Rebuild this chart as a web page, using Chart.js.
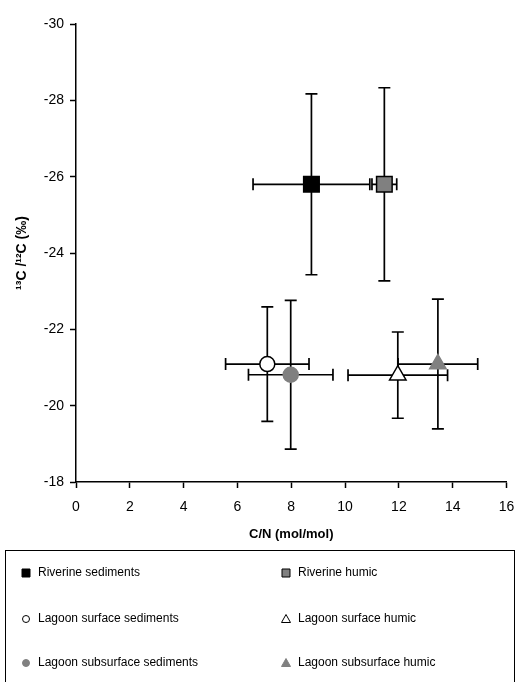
<!DOCTYPE html>
<html>
<head>
<meta charset="utf-8">
<script src="https://cdn.jsdelivr.net/npm/chart.js@4/dist/chart.umd.min.js"></script>
<style>
html,body{margin:0;padding:0;background:#fff;}
#wrap{position:relative;width:519px;height:682px;}
canvas{display:block;}
</style>
</head>
<body>
<div id="wrap"><canvas id="c" width="519" height="682"></canvas></div>
<script>
// Series names
const seriesNames = ['Riverine sediments','Riverine humic','Lagoon surface sediments','Lagoon surface humic','Lagoon subsurface sediments','Lagoon subsurface humic'];
// C/N (mol/mol) values and error
const cnValues = [8.75, 11.46, 7.11, 11.96, 7.98, 13.45];
const cnErrors = [2.17, 0.46, 1.55, 1.85, 1.57, 1.48];
// 13C/12C (‰) values and error
const d13Values = [-25.8, -25.8, -21.09, -20.8, -20.81, -21.09];
const d13Errors = [2.37, 2.53, 1.5, 1.13, 1.95, 1.7];
// Tick labels
const xTicks = [0,2,4,6,8,10,12,14,16];
const yTicks = [-30,-28,-26,-24,-22,-20,-18];

const styles = [
  {shape:'rect', fill:'#000000', stroke:'#000000', r:11},
  {shape:'rect', fill:'#808080', stroke:'#000000', r:11},
  {shape:'circle', fill:'#ffffff', stroke:'#000000', r:7.5},
  {shape:'triangle', fill:'#ffffff', stroke:'#000000', r:9.5},
  {shape:'circle', fill:'#808080', stroke:'#808080', r:7.5},
  {shape:'triangle', fill:'#808080', stroke:'#808080', r:9.5}
];

const datasets = seriesNames.map((n,i)=>({
  label:n,
  data:[{x:cnValues[i], y:d13Values[i], xe:cnErrors[i], ye:d13Errors[i]}],
  pointStyle:styles[i].shape,
  pointRadius:styles[i].r,
  pointHoverRadius:styles[i].r,
  backgroundColor:styles[i].fill,
  borderColor:styles[i].stroke,
  borderWidth:1.5
}));

const errorBars = {
  id:'errorBars',
  beforeDatasetsDraw(chart){
    const ctx = chart.ctx, xs = chart.scales.x, ys = chart.scales.y;
    ctx.save();
    ctx.strokeStyle = '#000';
    ctx.lineWidth = 1.7;
    const cap = 6;
    chart.data.datasets.forEach(ds=>{
      ds.data.forEach(p=>{
        const px = xs.getPixelForValue(p.x), py = ys.getPixelForValue(p.y);
        const x1 = xs.getPixelForValue(p.x-p.xe), x2 = xs.getPixelForValue(p.x+p.xe);
        const y1 = ys.getPixelForValue(p.y-p.ye), y2 = ys.getPixelForValue(p.y+p.ye);
        ctx.beginPath();
        ctx.moveTo(x1,py); ctx.lineTo(x2,py);
        ctx.moveTo(x1,py-cap); ctx.lineTo(x1,py+cap);
        ctx.moveTo(x2,py-cap); ctx.lineTo(x2,py+cap);
        ctx.moveTo(px,y1); ctx.lineTo(px,y2);
        ctx.moveTo(px-cap,y1); ctx.lineTo(px+cap,y1);
        ctx.moveTo(px-cap,y2); ctx.lineTo(px+cap,y2);
        ctx.stroke();
      });
    });
    ctx.restore();
  }
};

const boxLegend = {
  id:'boxLegend',
  afterDraw(chart){
    const ctx = chart.ctx;
    ctx.save();
    ctx.strokeStyle = '#000';
    ctx.lineWidth = 1;
    ctx.strokeRect(5.5, 550.5, 509, 140);
    ctx.font = '12px "Liberation Sans", Arial, sans-serif';
    ctx.textBaseline = 'middle';
    const colX = [26, 286];
    const rowY = [573, 619, 663];
    chart.data.datasets.forEach((ds,k)=>{
      const cx = colX[k%2], cy = rowY[Math.floor(k/2)];
      const st = styles[k];
      ctx.fillStyle = st.fill; ctx.strokeStyle = st.stroke; ctx.lineWidth = 1;
      ctx.beginPath();
      if(st.shape==='rect'){ ctx.rect(cx-4,cy-4,8,8); }
      else if(st.shape==='circle'){ ctx.arc(cx,cy,3.5,0,Math.PI*2); }
      else { ctx.moveTo(cx,cy-4.5); ctx.lineTo(cx+4.5,cy+3.5); ctx.lineTo(cx-4.5,cy+3.5); ctx.closePath(); }
      ctx.fill(); ctx.stroke();
      ctx.fillStyle = '#000';
      ctx.fillText(ds.label, cx+12, cy);
    });
    ctx.restore();
  }
};

const FONT = '"Liberation Sans", Arial, sans-serif';
new Chart(document.getElementById('c'), {
  type:'scatter',
  data:{datasets},
  options:{
    responsive:false,
    animation:false,
    layout:{padding:{left:14, right:4, top:24, bottom:140}},
    plugins:{legend:{display:false}, tooltip:{enabled:false}},
    scales:{
      x:{
        type:'linear', min:0, max:16,
        afterBuildTicks(s){ s.ticks = xTicks.map(v=>({value:v})); },
        afterFit(s){ s.height = 60; s.paddingRight = 0; },
        grid:{display:true, drawOnChartArea:false, drawTicks:true, tickLength:6, tickColor:'#000', tickWidth:1.5},
        border:{color:'#000', width:1.5},
        ticks:{color:'#000', font:{family:FONT, size:14}, padding:11, maxRotation:0},
        title:{display:true, text:'C/N (mol/mol)', color:'#000', font:{family:FONT, size:13, weight:'bold'}, padding:{top:2,bottom:0}}
      },
      y:{
        type:'linear', min:-30, max:-18, reverse:true,
        afterBuildTicks(s){ s.ticks = yTicks.map(v=>({value:v})); },
        afterFit(s){ s.width = 62; },
        grid:{display:true, drawOnChartArea:false, drawTicks:true, tickLength:6, tickColor:'#000', tickWidth:1.5},
        border:{color:'#000', width:1.5},
        ticks:{color:'#000', font:{family:FONT, size:14}, padding:6},
        title:{display:true, text:'¹³C /¹²C (‰)', color:'#000', font:{family:FONT, size:14, weight:'bold'}, padding:{top:0,bottom:0}}
      }
    }
  },
  plugins:[errorBars, boxLegend]
});
</script>
</body>
</html>
